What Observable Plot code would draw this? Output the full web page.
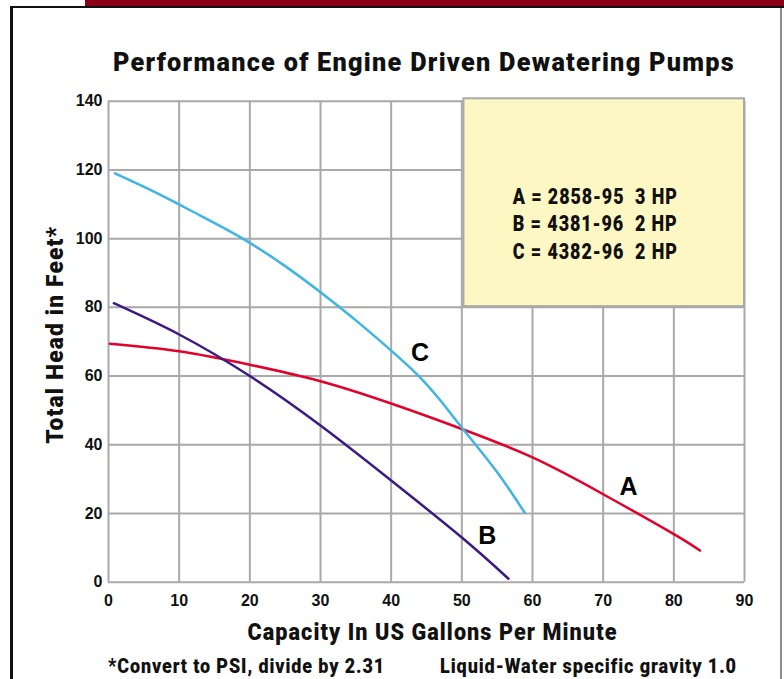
<!DOCTYPE html>
<html><head><meta charset="utf-8">
<script src="https://cdn.jsdelivr.net/npm/d3@7"></script>
<script src="https://cdn.jsdelivr.net/npm/@observablehq/plot@0.6"></script>
<style>
html,body{margin:0;padding:0;background:#fff;}
#wrap{position:relative;width:784px;height:679px;overflow:hidden;background:#fff;}
.abs{position:absolute;}
.cond{font-family:Roboto,"Liberation Sans",sans-serif;font-weight:900;color:#111;white-space:pre;line-height:1;letter-spacing:0.05em;transform-origin:0 0;}
svg text{white-space:pre;}
</style></head><body>
<div id="wrap">
  <div class="abs" style="left:85px;top:0;width:699px;height:6px;background:#8a0016"></div>
  <div class="abs" style="left:10px;top:6px;width:774px;height:2px;background:#111"></div>
  <div class="abs" style="left:10px;top:6px;width:3px;height:673px;background:#111"></div>
  <div class="abs" style="left:780px;top:8px;width:2px;height:671px;background:#8c8c8c"></div>
  <div id="title" class="abs cond" style="left:113px;top:50px;font-size:25px;"></div>
  <div id="chart" class="abs" style="left:0;top:88px;"></div>
  <div id="cap1" class="abs cond" style="left:108px;top:655.5px;font-size:20.5px;"></div>
  <div id="cap2" class="abs cond" style="left:440px;top:655.5px;font-size:20.5px;"></div>
</div>
<script>
// ---- text ----
const titleText = "Performance of Engine Driven Dewatering Pumps";
const xTitle = "Capacity In US Gallons Per Minute";
const yTitle = "Total Head in Feet*";
const caption1 = "*Convert to PSI, divide by 2.31";
const caption2 = "Liquid-Water specific gravity 1.0";
const legendLines = ["A = 2858-95  3 HP", "B = 4381-96  2 HP", "C = 4382-96  2 HP"];

// ---- ticks ----
const xTicks = [0, 10, 20, 30, 40, 50, 60, 70, 80, 90];
const yTicks = [0, 20, 40, 60, 80, 100, 120, 140];

// ---- series: [capacity (GPM), head (ft)] ----
const pumpA = [[0.2,69.4],[10,67.2],[20,63.3],[30,58.5],[40,52],[50,44.6],[60,36.3],[70,25.6],[80,14],[83.7,9.2]];
const pumpB = [[0.75,81.2],[10,72.1],[20,60],[30,45.6],[40,29.6],[50,13],[56.6,1]];
const pumpC = [[0.9,119],[7,113.1],[13,106.7],[19,100],[25,92],[30,84.4],[35,76.2],[40,67.4],[43.9,60],[47,52.8],[50.5,43.7],[55,32],[58.9,20.2]];
const pumpNames = ["A", "B", "C"];
const pumpColors = ["#e3002b", "#3b1a86", "#3db5e6"];
const curveLabels = [{name:"A", q:73.6, h:27.7}, {name:"B", q:53.6, h:13.4}, {name:"C", q:44.1, h:66.7}];

const rows = [];
[pumpA, pumpB, pumpC].forEach((s, i) => s.forEach(([q, h]) => rows.push({pump: pumpNames[i], q, h})));

const legendBox = {x1: 50.3, x2: 90, y1: 80.2, y2: 140.7};
const cond = 'Roboto,"Liberation Sans",sans-serif';
const grid = "#a9a9a9";

const chart = Plot.plot({
  width: 784, height: 560,
  marginLeft: 108, marginRight: 40, marginTop: 12.7, marginBottom: 66.3,
  x: {domain: [0, 90]},
  y: {domain: [0, 140]},
  color: {domain: pumpNames, range: pumpColors},
  style: {fontFamily: '"Liberation Sans", Arial, sans-serif', fontWeight: "bold", fontSize: "16px", color: "#111", background: "transparent", overflow: "visible"},
  marks: [
    Plot.ruleX(xTicks, {x: d => d, y1: 0, y2: 140, stroke: grid, strokeWidth: 2}),
    Plot.ruleY(yTicks, {y: d => d, x1: 0, x2: 90, stroke: grid, strokeWidth: 2}),
    Plot.rect([legendBox], {x1: "x1", x2: "x2", y1: "y1", y2: "y2", fill: "#fdf7c4", stroke: grid, strokeWidth: 2}),
    Plot.axisX({ticks: xTicks, tickSize: 0, tickPadding: 12, label: null, fontSize: 16, fontWeight: "bold"}),
    Plot.axisY({ticks: yTicks, tickSize: 0, tickPadding: 6, label: null, fontSize: 16, fontWeight: "bold"}),
    Plot.line(rows, {x: "q", y: "h", z: "pump", stroke: "pump", strokeWidth: 2.5, curve: "natural"}),
    Plot.text(curveLabels, {x: "q", y: "h", text: "name", fontSize: 25, fontWeight: "bold", fill: "#000", fontFamily: '"Liberation Sans", Arial, sans-serif'}),
    Plot.text(legendLines, {x: () => 57.2, y: (d, i) => 110.1 - i * 8, text: d => d, textAnchor: "start", lineAnchor: "bottom", fontSize: 21.5, fontWeight: 900, fontFamily: cond, fill: "#111"}),
    Plot.text([xTitle], {frameAnchor: "bottom", textAnchor: "middle", lineAnchor: "middle", dx: 6, dy: 50.3, fontSize: 24, fontWeight: 900, fontFamily: cond, fill: "#111"}),
    Plot.text([yTitle], {frameAnchor: "left", textAnchor: "middle", lineAnchor: "middle", rotate: -90, dx: -53.5, dy: -7, fontSize: 24, fontWeight: 900, fontFamily: cond, fill: "#111"})
  ]
});
document.getElementById("chart").appendChild(chart);

// fit HTML text widths (compress glyphs like a condensed face)
function fitHtml(id, text, target) {
  const el = document.getElementById(id);
  el.textContent = text;
  const w = el.getBoundingClientRect().width;
  el.style.transform = `scaleX(${target / w})`;
}
fitHtml("title", titleText, 622);
fitHtml("cap1", caption1, 277);
fitHtml("cap2", caption2, 297);

// fit SVG text widths
function fitSvg(text, target) {
  chart.querySelectorAll("text").forEach(t => {
    if (t.textContent === text) {
      t.style.letterSpacing = "0.05em";
      t.setAttribute("textLength", target);
      t.setAttribute("lengthAdjust", "spacingAndGlyphs");
    }
  });
}
fitSvg(xTitle, 370);
fitSvg(yTitle, 218);
legendLines.forEach(l => fitSvg(l, 165));
</script>
</body></html>
